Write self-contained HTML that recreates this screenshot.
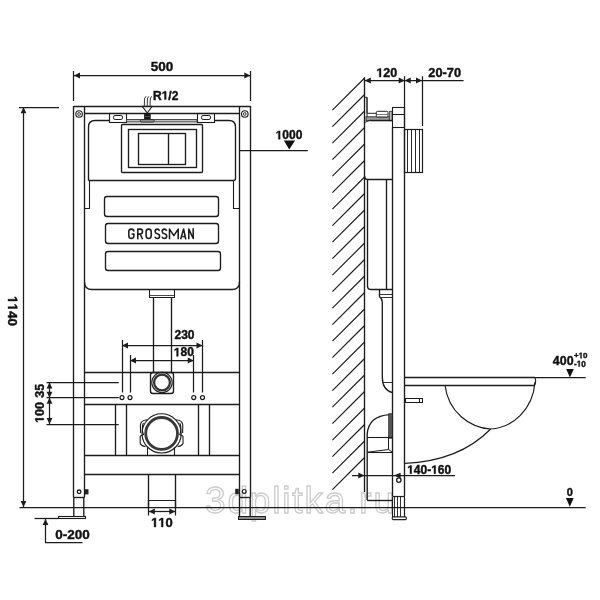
<!DOCTYPE html>
<html><head><meta charset="utf-8"><style>
html,body{margin:0;padding:0;background:#fff;width:600px;height:600px;overflow:hidden}
svg{display:block;font-family:"Liberation Sans",sans-serif;filter:grayscale(1)}
</style></head><body><svg width="600" height="600" viewBox="0 0 600 600" font-family="'Liberation Sans', sans-serif"><text x="205" y="513" font-size="37" font-weight="normal" fill="none" stroke="#cccccc" stroke-width="1.3" textLength="189" lengthAdjust="spacing">3dplitka.ru</text><line x1="73.5" y1="71" x2="73.5" y2="101" stroke="#1c1c1c" stroke-width="1.25"/><line x1="250.5" y1="71" x2="250.5" y2="101" stroke="#1c1c1c" stroke-width="1.25"/><line x1="74" y1="75.5" x2="250" y2="75.5" stroke="#1c1c1c" stroke-width="1.25"/><polygon points="74.00,75.50 80.00,72.60 80.00,78.40" fill="#1c1c1c"/><polygon points="250.30,75.50 244.30,72.60 244.30,78.40" fill="#1c1c1c"/><text x="150.74" y="70.9" font-size="13.5" font-weight="bold" fill="#111" stroke="#111" stroke-width="0.4" >500</text><line x1="73.6" y1="106.5" x2="250.4" y2="106.5" stroke="#1c1c1c" stroke-width="1.35"/><line x1="73.5" y1="106" x2="73.5" y2="497.5" stroke="#1c1c1c" stroke-width="1.35"/><line x1="84.5" y1="106.5" x2="84.5" y2="497.5" stroke="#1c1c1c" stroke-width="1.35"/><line x1="250.5" y1="106" x2="250.5" y2="497.5" stroke="#1c1c1c" stroke-width="1.35"/><line x1="239.5" y1="106.5" x2="239.5" y2="497.5" stroke="#1c1c1c" stroke-width="1.35"/><line x1="84.5" y1="113.5" x2="239.3" y2="113.5" stroke="#1c1c1c" stroke-width="1.35"/><circle cx="79.1" cy="114" r="3.3" fill="none" stroke="#1c1c1c" stroke-width="1.1"/><circle cx="79.1" cy="114" r="1.4" fill="none" stroke="#1c1c1c" stroke-width="0.9"/><circle cx="244.8" cy="114" r="3.3" fill="none" stroke="#1c1c1c" stroke-width="1.1"/><circle cx="244.8" cy="114" r="1.4" fill="none" stroke="#1c1c1c" stroke-width="0.9"/><line x1="73.6" y1="497.5" x2="84.5" y2="497.5" stroke="#1c1c1c" stroke-width="1.35"/><line x1="239.3" y1="497.5" x2="250.4" y2="497.5" stroke="#1c1c1c" stroke-width="1.35"/><path d="M73.8,497.5 L73.8,516 M83.8,497.5 L83.8,516" fill="none" stroke="#1c1c1c" stroke-width="1.35" stroke-linejoin="round"/><rect x="58.5" y="516.5" width="27.0" height="2.0" rx="0" fill="none" stroke="#1c1c1c" stroke-width="1.1"/><path d="M239.5,497.5 L239.5,516.5 M250.2,497.5 L250.2,516.5" fill="none" stroke="#1c1c1c" stroke-width="1.35" stroke-linejoin="round"/><rect x="238.5" y="516.5" width="27.0" height="3.0" rx="0" fill="#8a8a8a" stroke="#1c1c1c" stroke-width="1.0"/><circle cx="79.1" cy="491.8" r="1.8" fill="none" stroke="#1c1c1c" stroke-width="1.3"/><rect x="84.6" y="489.2" width="3.9" height="5.2" fill="#222"/><circle cx="244.2" cy="491.4" r="1.9" fill="none" stroke="#1c1c1c" stroke-width="1.2"/><rect x="235.2" y="488.8" width="3.6" height="5.5" fill="#222"/><line x1="19" y1="107.5" x2="59" y2="107.5" stroke="#1c1c1c" stroke-width="1.25"/><line x1="23.5" y1="107" x2="23.5" y2="507" stroke="#1c1c1c" stroke-width="1.25"/><polygon points="23.50,107.20 20.60,113.20 26.40,113.20" fill="#1c1c1c"/><polygon points="23.50,507.00 20.60,501.00 26.40,501.00" fill="#1c1c1c"/><g transform="translate(8,311) rotate(90)"><text x="-15.02" y="0" font-size="13.5" font-weight="bold" fill="#111" stroke="#111" stroke-width="0.4" >  40</text><path d="M478 0H759V1409H493L140 1180V959L478 1170Z" transform="translate(-15.02,0) scale(0.00659,-0.00659)" fill="#111" stroke="#111" stroke-width="0.4" vector-effect="non-scaling-stroke"/><path d="M478 0H759V1409H493L140 1180V959L478 1170Z" transform="translate(-7.51,0) scale(0.00659,-0.00659)" fill="#111" stroke="#111" stroke-width="0.4" vector-effect="non-scaling-stroke"/></g><line x1="19.5" y1="507.5" x2="585.7" y2="507.5" stroke="#1c1c1c" stroke-width="1.25"/><rect x="109.5" y="113.5" width="17.0" height="9.0" rx="0" fill="none" stroke="#1c1c1c" stroke-width="1.1"/><rect x="113.5" y="115.5" width="9.0" height="4.0" rx="1.6" fill="none" stroke="#1c1c1c" stroke-width="1.0"/><rect x="197.5" y="113.5" width="17.0" height="9.0" rx="0" fill="none" stroke="#1c1c1c" stroke-width="1.1"/><rect x="201.5" y="115.5" width="9.0" height="4.0" rx="1.6" fill="none" stroke="#1c1c1c" stroke-width="1.0"/><path d="M88.5,180.5 L88.5,127 Q88.5,120.5 95,120.5 L109,120.5 M126.5,120.5 L197.5,120.5 M214.5,120.5 L229,120.5 Q235.5,120.5 235.5,127 L235.5,178.5 Q235.5,180.5 233.5,180.5" fill="none" stroke="#1c1c1c" stroke-width="1.35" stroke-linejoin="round"/><rect x="126.5" y="119.6" width="70.5" height="2.3" fill="#c8c8c8" stroke="#333" stroke-width="0.9"/><line x1="88.5" y1="180.5" x2="233.5" y2="180.5" stroke="#1c1c1c" stroke-width="1.35"/><path d="M84.5,208.5 L89.5,208.5 L89.5,180.5" fill="none" stroke="#1c1c1c" stroke-width="1.1" stroke-linejoin="round"/><path d="M239.5,208.5 L233.5,208.5 L233.5,180.5" fill="none" stroke="#1c1c1c" stroke-width="1.1" stroke-linejoin="round"/><path d="M84.5,282 Q84.5,289.5 92,289.5 L232,289.5 Q239.5,289.5 239.5,282" fill="none" stroke="#1c1c1c" stroke-width="1.35" stroke-linejoin="round"/><rect x="121.5" y="124.5" width="81.0" height="48.0" rx="1" fill="none" stroke="#1c1c1c" stroke-width="1.35"/><rect x="128.5" y="129.5" width="68.0" height="38.0" rx="0" fill="none" stroke="#1c1c1c" stroke-width="1.35"/><rect x="138.5" y="133.5" width="47.0" height="31.0" rx="0" fill="none" stroke="#1c1c1c" stroke-width="1.35"/><line x1="168.5" y1="133.4" x2="168.5" y2="164" stroke="#1c1c1c" stroke-width="1.35"/><path d="M142.3,106.3 L152.2,106.3 L147.3,113 Z" fill="none" stroke="#1c1c1c" stroke-width="1.1" stroke-linejoin="round"/><path d="M144.4,105.6 L144.4,101 Q144.4,97.5 146.0,96.3" fill="none" stroke="#1c1c1c" stroke-width="0.9" stroke-linejoin="round"/><path d="M147.3,105.6 L147.3,101 Q147.3,97.5 148.9,96.3" fill="none" stroke="#1c1c1c" stroke-width="0.9" stroke-linejoin="round"/><path d="M150.1,105.6 L150.1,101 Q150.1,97.5 151.7,96.3" fill="none" stroke="#1c1c1c" stroke-width="0.9" stroke-linejoin="round"/><rect x="144.1" y="113.8" width="6.6" height="5.7" fill="#1a1a1a"/><line x1="145" y1="116.5" x2="149.8" y2="116.5" stroke="#777" stroke-width="0.6"/><path d="M141,119.6 L153.5,119.6 L154.4,120.8 L153.5,122 L141,122 L140.1,120.8 Z" fill="#9a9a9a" stroke="#222" stroke-width="0.9"/><text x="153.00" y="99.6" font-size="12" font-weight="bold" fill="#111" stroke="#111" stroke-width="0.4" >R /2</text><path d="M478 0H759V1409H493L140 1180V959L478 1170Z" transform="translate(161.67,99.6) scale(0.00586,-0.00586)" fill="#111" stroke="#111" stroke-width="0.4" vector-effect="non-scaling-stroke"/><rect x="104.5" y="196.5" width="114.0" height="20.0" rx="2.5" fill="none" stroke="#1c1c1c" stroke-width="1.35"/><rect x="105.5" y="223.5" width="113.0" height="20.0" rx="2.5" fill="none" stroke="#1c1c1c" stroke-width="1.35"/><rect x="105.5" y="251.5" width="115.0" height="19.0" rx="2.5" fill="none" stroke="#1c1c1c" stroke-width="1.35"/><path d="M133.9,231.6 Q133.9,229.1 131.35,229.1 Q128.8,229.1 128.8,231.8 L128.8,235.8 Q128.8,238.5 131.35,238.5 Q133.9,238.5 133.9,235.8 L133.9,233.9 L131.6,233.9" fill="none" stroke="#1c1c1c" stroke-width="1.55" stroke-linejoin="round"/><path d="M137.8,239.3 L137.8,229.1 L140.3,229.1 Q142.5,229.1 142.5,231.6 Q142.5,234.1 140.3,234.1 L137.8,234.1 M140.2,234.1 L142.6,239.3" fill="none" stroke="#1c1c1c" stroke-width="1.55" stroke-linejoin="round"/><path d="M146.1,231.8 Q146.1,229.1 148.65,229.1 Q151.2,229.1 151.2,231.8 L151.2,235.8 Q151.2,238.5 148.65,238.5 Q146.1,238.5 146.1,235.8 Z" fill="none" stroke="#1c1c1c" stroke-width="1.55" stroke-linejoin="round"/><path d="M159.60000000000002,230.9 Q158.8,229.1 157.3,229.1 Q155.10000000000002,229.1 155.10000000000002,231.5 Q155.10000000000002,233.3 157.3,233.8 Q159.60000000000002,234.3 159.60000000000002,236.1 Q159.60000000000002,238.5 157.3,238.5 Q155.60000000000002,238.5 154.9,236.8" fill="none" stroke="#1c1c1c" stroke-width="1.55" stroke-linejoin="round"/><path d="M166.70000000000002,230.9 Q165.9,229.1 164.4,229.1 Q162.20000000000002,229.1 162.20000000000002,231.5 Q162.20000000000002,233.3 164.4,233.8 Q166.70000000000002,234.3 166.70000000000002,236.1 Q166.70000000000002,238.5 164.4,238.5 Q162.70000000000002,238.5 162.0,236.8" fill="none" stroke="#1c1c1c" stroke-width="1.55" stroke-linejoin="round"/><path d="M169.5,239.3 L169.5,229.1 L173.85,235.6 L178.2,229.1 L178.2,239.3" fill="none" stroke="#1c1c1c" stroke-width="1.55" stroke-linejoin="round"/><path d="M180.7,239.3 L183.6,229 L185.8,239.3" fill="none" stroke="#1c1c1c" stroke-width="1.55" stroke-linejoin="round"/><path d="M182.3,236.6 L185,236.6" fill="none" stroke="#1c1c1c" stroke-width="1.55" stroke-linejoin="round"/><path d="M188.8,239.3 L188.8,229.1 L193.2,238.5 L193.2,228.3" fill="none" stroke="#1c1c1c" stroke-width="1.55" stroke-linejoin="round"/><rect x="149.5" y="289.5" width="25.0" height="8.0" rx="0" fill="none" stroke="#1c1c1c" stroke-width="1.0"/><line x1="149.4" y1="295.5" x2="174.4" y2="295.5" stroke="#1c1c1c" stroke-width="0.8"/><line x1="153.5" y1="297.6" x2="153.5" y2="372" stroke="#1c1c1c" stroke-width="1.35"/><line x1="171.5" y1="297.6" x2="171.5" y2="372" stroke="#1c1c1c" stroke-width="1.35"/><rect x="150.5" y="372.5" width="23.0" height="21.0" rx="2.5" fill="none" stroke="#1c1c1c" stroke-width="1.35"/><circle cx="162" cy="382.5" r="10.2" fill="none" stroke="#1c1c1c" stroke-width="1.1"/><circle cx="162" cy="382.5" r="7.9" fill="none" stroke="#333" stroke-width="2.3"/><line x1="84.5" y1="372.5" x2="239.3" y2="372.5" stroke="#1c1c1c" stroke-width="1.35"/><line x1="84.5" y1="404.5" x2="239.3" y2="404.5" stroke="#1c1c1c" stroke-width="1.35"/><line x1="115.5" y1="404" x2="115.5" y2="455.5" stroke="#1c1c1c" stroke-width="1.35"/><line x1="126.5" y1="404" x2="126.5" y2="455.5" stroke="#1c1c1c" stroke-width="1.35"/><line x1="198.5" y1="404" x2="198.5" y2="455.5" stroke="#1c1c1c" stroke-width="1.35"/><line x1="209.5" y1="404" x2="209.5" y2="455.5" stroke="#1c1c1c" stroke-width="1.35"/><line x1="84.5" y1="455.5" x2="239.3" y2="455.5" stroke="#1c1c1c" stroke-width="1.35"/><line x1="84.5" y1="474.5" x2="239.3" y2="474.5" stroke="#1c1c1c" stroke-width="1.35"/><circle cx="161.6" cy="433.4" r="19.6" fill="none" stroke="#1c1c1c" stroke-width="1.1"/><circle cx="161.6" cy="433.4" r="15.9" fill="none" stroke="#3a3a3a" stroke-width="2.8"/><path d="M147,419.8 C143,420.2 140.4,422 140.4,425.5 L140.6,433 M140.2,436 L140.2,443.5 C140.6,445 142.5,446 145.5,446.8" fill="none" stroke="#1c1c1c" stroke-width="1.1" stroke-linejoin="round"/><path d="M 176.2 419.8 C 180.2 420.2 182.8 422.0 182.8 425.5 L 182.6 433.0 M 183.0 436.0 L 183.0 443.5 C 182.6 445.0 180.7 446.0 177.7 446.8" fill="none" stroke="#1c1c1c" stroke-width="1.1" stroke-linejoin="round"/><path d="M143.6,423.2 C142.3,424.5 142.2,428 142.6,432 L143.6,434.6 L140.2,436" fill="none" stroke="#1c1c1c" stroke-width="1.1" stroke-linejoin="round"/><path d="M 179.6 423.2 C 180.9 424.5 181.0 428.0 180.6 432.0 L 179.6 434.6 L 183.0 436.0" fill="none" stroke="#1c1c1c" stroke-width="1.1" stroke-linejoin="round"/><line x1="147.5" y1="447.3" x2="147.5" y2="455.7" stroke="#1c1c1c" stroke-width="1.1"/><line x1="174.5" y1="447.3" x2="174.5" y2="455.7" stroke="#1c1c1c" stroke-width="1.1"/><line x1="148.5" y1="474" x2="148.5" y2="507.5" stroke="#1c1c1c" stroke-width="1.35"/><line x1="175.5" y1="474" x2="175.5" y2="507.5" stroke="#1c1c1c" stroke-width="1.35"/><line x1="148.3" y1="500.5" x2="175.5" y2="500.5" stroke="#1c1c1c" stroke-width="1.0"/><line x1="122.5" y1="340" x2="122.5" y2="392.5" stroke="#1c1c1c" stroke-width="1.25"/><line x1="202.5" y1="340" x2="202.5" y2="392.5" stroke="#1c1c1c" stroke-width="1.25"/><line x1="122" y1="345.5" x2="202.5" y2="345.5" stroke="#1c1c1c" stroke-width="1.25"/><polygon points="122.00,345.50 128.00,342.60 128.00,348.40" fill="#1c1c1c"/><polygon points="202.50,345.50 196.50,342.60 196.50,348.40" fill="#1c1c1c"/><text x="174.49" y="338.8" font-size="12" font-weight="bold" fill="#111" stroke="#111" stroke-width="0.4" >230</text><line x1="130.5" y1="355" x2="130.5" y2="392.5" stroke="#1c1c1c" stroke-width="1.25"/><line x1="193.5" y1="355" x2="193.5" y2="392.5" stroke="#1c1c1c" stroke-width="1.25"/><line x1="130" y1="360.5" x2="193.75" y2="360.5" stroke="#1c1c1c" stroke-width="1.25"/><polygon points="130.00,360.50 136.00,357.60 136.00,363.40" fill="#1c1c1c"/><polygon points="193.75,360.50 187.75,357.60 187.75,363.40" fill="#1c1c1c"/><text x="173.79" y="356.3" font-size="12" font-weight="bold" fill="#111" stroke="#111" stroke-width="0.4" > 80</text><path d="M478 0H759V1409H493L140 1180V959L478 1170Z" transform="translate(173.79,356.3) scale(0.00586,-0.00586)" fill="#111" stroke="#111" stroke-width="0.4" vector-effect="non-scaling-stroke"/><circle cx="122" cy="397.6" r="2.0" fill="#fff" stroke="#1c1c1c" stroke-width="1.2"/><circle cx="130" cy="397.6" r="2.0" fill="#fff" stroke="#1c1c1c" stroke-width="1.2"/><circle cx="193.75" cy="397.6" r="2.0" fill="#fff" stroke="#1c1c1c" stroke-width="1.2"/><circle cx="202.5" cy="397.6" r="2.0" fill="#fff" stroke="#1c1c1c" stroke-width="1.2"/><line x1="46.5" y1="382.5" x2="118.75" y2="382.5" stroke="#1c1c1c" stroke-width="1.25"/><line x1="46.5" y1="397.5" x2="118.75" y2="397.5" stroke="#1c1c1c" stroke-width="1.25"/><line x1="46.5" y1="424.5" x2="118.75" y2="424.5" stroke="#1c1c1c" stroke-width="1.25"/><line x1="49.5" y1="382.5" x2="49.5" y2="424" stroke="#1c1c1c" stroke-width="1.25"/><polygon points="49.50,382.50 46.60,388.50 52.40,388.50" fill="#1c1c1c"/><polygon points="49.50,397.80 46.60,391.80 52.40,391.80" fill="#1c1c1c"/><polygon points="49.50,397.80 46.60,403.80 52.40,403.80" fill="#1c1c1c"/><polygon points="49.50,424.00 46.60,418.00 52.40,418.00" fill="#1c1c1c"/><g transform="translate(43.8,390.8) rotate(-90)"><text x="-6.95" y="0" font-size="12.5" font-weight="bold" fill="#111" stroke="#111" stroke-width="0.4" >35</text></g><g transform="translate(43.8,412.5) rotate(-90)"><text x="-10.43" y="0" font-size="12.5" font-weight="bold" fill="#111" stroke="#111" stroke-width="0.4" > 00</text><path d="M478 0H759V1409H493L140 1180V959L478 1170Z" transform="translate(-10.43,0) scale(0.00610,-0.00610)" fill="#111" stroke="#111" stroke-width="0.4" vector-effect="non-scaling-stroke"/></g><line x1="34.5" y1="518.5" x2="58" y2="518.5" stroke="#1c1c1c" stroke-width="1.25"/><line x1="45.5" y1="519" x2="45.5" y2="542.5" stroke="#1c1c1c" stroke-width="1.25"/><line x1="45" y1="542.5" x2="82.5" y2="542.5" stroke="#1c1c1c" stroke-width="1.25"/><polygon points="45.50,518.90 42.60,524.90 48.40,524.90" fill="#1c1c1c"/><text x="55.24" y="538.8" font-size="13.5" font-weight="bold" fill="#111" stroke="#111" stroke-width="0.4" >0-200</text><line x1="148.5" y1="500" x2="148.5" y2="515.5" stroke="#1c1c1c" stroke-width="1.25"/><line x1="175.5" y1="500" x2="175.5" y2="515.5" stroke="#1c1c1c" stroke-width="1.25"/><line x1="148.3" y1="511.5" x2="175.5" y2="511.5" stroke="#1c1c1c" stroke-width="1.25"/><polygon points="148.80,511.50 154.80,508.60 154.80,514.40" fill="#1c1c1c"/><polygon points="175.30,511.50 169.30,508.60 169.30,514.40" fill="#1c1c1c"/><text x="151.06" y="527" font-size="13" font-weight="bold" fill="#111" stroke="#111" stroke-width="0.4" >  0</text><path d="M478 0H759V1409H493L140 1180V959L478 1170Z" transform="translate(151.06,527) scale(0.00635,-0.00635)" fill="#111" stroke="#111" stroke-width="0.4" vector-effect="non-scaling-stroke"/><path d="M478 0H759V1409H493L140 1180V959L478 1170Z" transform="translate(158.29,527) scale(0.00635,-0.00635)" fill="#111" stroke="#111" stroke-width="0.4" vector-effect="non-scaling-stroke"/><line x1="239.3" y1="150.5" x2="307.8" y2="150.5" stroke="#1c1c1c" stroke-width="1.25"/><polygon points="283.9,140.5 295.1,140.5 289.2,149.6" fill="#111"/><text x="275.65" y="139.2" font-size="12" font-weight="bold" fill="#111" stroke="#111" stroke-width="0.4" > 000</text><path d="M478 0H759V1409H493L140 1180V959L478 1170Z" transform="translate(275.65,139.2) scale(0.00586,-0.00586)" fill="#111" stroke="#111" stroke-width="0.4" vector-effect="non-scaling-stroke"/><line x1="364.5" y1="77.3" x2="364.5" y2="492" stroke="#1c1c1c" stroke-width="1.35"/><line x1="364.6" y1="78.0" x2="332.4" y2="110.2" stroke="#1c1c1c" stroke-width="1.15"/><line x1="364.6" y1="94.5" x2="332.4" y2="126.7" stroke="#1c1c1c" stroke-width="1.15"/><line x1="364.6" y1="111.0" x2="332.4" y2="143.2" stroke="#1c1c1c" stroke-width="1.15"/><line x1="364.6" y1="127.5" x2="332.4" y2="159.7" stroke="#1c1c1c" stroke-width="1.15"/><line x1="364.6" y1="144.0" x2="332.4" y2="176.2" stroke="#1c1c1c" stroke-width="1.15"/><line x1="364.6" y1="160.5" x2="332.4" y2="192.7" stroke="#1c1c1c" stroke-width="1.15"/><line x1="364.6" y1="177.0" x2="332.4" y2="209.2" stroke="#1c1c1c" stroke-width="1.15"/><line x1="364.6" y1="193.5" x2="332.4" y2="225.7" stroke="#1c1c1c" stroke-width="1.15"/><line x1="364.6" y1="210.0" x2="332.4" y2="242.2" stroke="#1c1c1c" stroke-width="1.15"/><line x1="364.6" y1="226.5" x2="332.4" y2="258.7" stroke="#1c1c1c" stroke-width="1.15"/><line x1="364.6" y1="243.0" x2="332.4" y2="275.2" stroke="#1c1c1c" stroke-width="1.15"/><line x1="364.6" y1="259.5" x2="332.4" y2="291.7" stroke="#1c1c1c" stroke-width="1.15"/><line x1="364.6" y1="276.0" x2="332.4" y2="308.2" stroke="#1c1c1c" stroke-width="1.15"/><line x1="364.6" y1="292.5" x2="332.4" y2="324.7" stroke="#1c1c1c" stroke-width="1.15"/><line x1="364.6" y1="309.0" x2="332.4" y2="341.2" stroke="#1c1c1c" stroke-width="1.15"/><line x1="364.6" y1="325.5" x2="332.4" y2="357.7" stroke="#1c1c1c" stroke-width="1.15"/><line x1="364.6" y1="342.0" x2="332.4" y2="374.2" stroke="#1c1c1c" stroke-width="1.15"/><line x1="364.6" y1="358.5" x2="332.4" y2="390.7" stroke="#1c1c1c" stroke-width="1.15"/><line x1="364.6" y1="375.0" x2="332.4" y2="407.2" stroke="#1c1c1c" stroke-width="1.15"/><line x1="364.6" y1="391.5" x2="332.4" y2="423.7" stroke="#1c1c1c" stroke-width="1.15"/><line x1="364.6" y1="408.0" x2="332.4" y2="440.2" stroke="#1c1c1c" stroke-width="1.15"/><line x1="364.6" y1="424.5" x2="332.4" y2="456.7" stroke="#1c1c1c" stroke-width="1.15"/><line x1="364.6" y1="441.0" x2="332.4" y2="473.2" stroke="#1c1c1c" stroke-width="1.15"/><line x1="364.6" y1="457.5" x2="332.4" y2="489.7" stroke="#1c1c1c" stroke-width="1.15"/><line x1="404.5" y1="76.3" x2="404.5" y2="107" stroke="#1c1c1c" stroke-width="1.25"/><line x1="422.5" y1="76.3" x2="422.5" y2="126" stroke="#1c1c1c" stroke-width="1.25"/><line x1="364.6" y1="80.5" x2="463.6" y2="80.5" stroke="#1c1c1c" stroke-width="1.25"/><polygon points="364.80,80.50 370.80,77.60 370.80,83.40" fill="#1c1c1c"/><polygon points="404.70,80.50 398.70,77.60 398.70,83.40" fill="#1c1c1c"/><polygon points="404.70,80.50 410.70,77.60 410.70,83.40" fill="#1c1c1c"/><polygon points="422.00,80.50 416.00,77.60 416.00,83.40" fill="#1c1c1c"/><text x="376.37" y="77" font-size="12.5" font-weight="bold" fill="#111" stroke="#111" stroke-width="0.4" > 20</text><path d="M478 0H759V1409H493L140 1180V959L478 1170Z" transform="translate(376.37,77) scale(0.00610,-0.00610)" fill="#111" stroke="#111" stroke-width="0.4" vector-effect="non-scaling-stroke"/><text x="428.33" y="76.8" font-size="12.8" font-weight="bold" fill="#111" stroke="#111" stroke-width="0.4" >20-70</text><path d="M365,97.3 L367,97.3 L367,113.3 L376.3,113.3 M367,117 L367,97.3" fill="none" stroke="#222" stroke-width="1.0"/><rect x="366" y="116.8" width="26" height="3.9" fill="#9a9a9a" stroke="#2a2a2a" stroke-width="0.9"/><rect x="376.3" y="111.3" width="11.7" height="5.7" rx="1.2" fill="#fff" stroke="#222" stroke-width="1.0"/><line x1="376.8" y1="114.5" x2="387.5" y2="114.5" stroke="#444" stroke-width="0.7"/><rect x="389.3" y="111.3" width="2.8" height="9.4" fill="#bbb" stroke="#333" stroke-width="0.8"/><path d="M365,122.3 L370.7,120" fill="none" stroke="#1c1c1c" stroke-width="0.9" stroke-linejoin="round"/><rect x="392.5" y="107.5" width="12.0" height="20.0" rx="0" fill="none" stroke="#1c1c1c" stroke-width="1.1"/><line x1="392.5" y1="114.5" x2="404.7" y2="114.5" stroke="#1c1c1c" stroke-width="1.0"/><line x1="404.5" y1="107" x2="404.5" y2="496" stroke="#1c1c1c" stroke-width="1.35"/><line x1="392.5" y1="127.5" x2="392.5" y2="496" stroke="#1c1c1c" stroke-width="1.35"/><rect x="404.5" y="129.5" width="18.0" height="43.0" rx="0" fill="none" stroke="#1c1c1c" stroke-width="1.2"/><line x1="407.5" y1="129.5" x2="407.5" y2="172.2" stroke="#1c1c1c" stroke-width="0.95"/><line x1="411.5" y1="129.5" x2="411.5" y2="172.2" stroke="#1c1c1c" stroke-width="0.95"/><line x1="415.5" y1="129.5" x2="415.5" y2="172.2" stroke="#1c1c1c" stroke-width="0.95"/><line x1="419.5" y1="129.5" x2="419.5" y2="172.2" stroke="#1c1c1c" stroke-width="0.95"/><line x1="370.5" y1="120.5" x2="392.5" y2="120.5" stroke="#1c1c1c" stroke-width="1.35"/><path d="M364.6,176 Q364.6,179.5 368,179.5 L392.5,179.5" fill="none" stroke="#1c1c1c" stroke-width="1.35" stroke-linejoin="round"/><line x1="367.5" y1="179" x2="367.5" y2="286.5" stroke="#1c1c1c" stroke-width="1.35"/><path d="M367.5,286 Q367.5,289.5 371,289.5 L392.5,289.5" fill="none" stroke="#1c1c1c" stroke-width="1.35" stroke-linejoin="round"/><line x1="386.5" y1="179" x2="386.5" y2="289.5" stroke="#1c1c1c" stroke-width="1.35"/><path d="M379.5,289.5 L379.5,296.5 Q382.3,299 382.3,302 L382.3,377 Q382.3,390 392.5,392.7" fill="none" stroke="#1c1c1c" stroke-width="1.35" stroke-linejoin="round"/><line x1="379.5" y1="294.5" x2="392.5" y2="294.5" stroke="#1c1c1c" stroke-width="0.9"/><line x1="379.8" y1="297.5" x2="392.5" y2="297.5" stroke="#1c1c1c" stroke-width="0.9"/><line x1="382.3" y1="382.5" x2="392.5" y2="382.5" stroke="#1c1c1c" stroke-width="0.9"/><path d="M367.2,500 L367.2,434 Q368.5,416 389.6,414.6" fill="none" stroke="#1c1c1c" stroke-width="1.35" stroke-linejoin="round"/><rect x="388.7" y="413.7" width="3.7" height="24.5" fill="#555" stroke="#222" stroke-width="0.7"/><line x1="367.2" y1="437.5" x2="392.4" y2="437.5" stroke="#1c1c1c" stroke-width="1.1"/><path d="M367.6,452.2 L388.5,449.5 L392.4,452.2 M388.5,437.6 L388.5,449.5" fill="none" stroke="#1c1c1c" stroke-width="1.0" stroke-linejoin="round"/><line x1="367.6" y1="452.5" x2="392.4" y2="452.5" stroke="#1c1c1c" stroke-width="1.1"/><line x1="367.2" y1="500.5" x2="392.5" y2="500.5" stroke="#1c1c1c" stroke-width="1.35"/><line x1="392.5" y1="496.5" x2="404.8" y2="496.5" stroke="#1c1c1c" stroke-width="1.2"/><line x1="392.5" y1="496.6" x2="392.5" y2="517" stroke="#1c1c1c" stroke-width="1.2"/><line x1="404.5" y1="496.6" x2="404.5" y2="517" stroke="#1c1c1c" stroke-width="1.2"/><line x1="394.5" y1="496.6" x2="394.5" y2="517" stroke="#1c1c1c" stroke-width="0.9"/><line x1="397.5" y1="496.6" x2="397.5" y2="517" stroke="#1c1c1c" stroke-width="0.9"/><line x1="400.5" y1="496.6" x2="400.5" y2="517" stroke="#1c1c1c" stroke-width="0.9"/><rect x="392.2" y="516.9" width="14.2" height="2.7" rx="1" fill="#fff" stroke="#222" stroke-width="1.1"/><circle cx="398.8" cy="480.1" r="2.2" fill="none" stroke="#1c1c1c" stroke-width="1.3"/><line x1="404.7" y1="377.5" x2="535" y2="377.5" stroke="#1c1c1c" stroke-width="1.35"/><line x1="585.7" y1="377.5" x2="535" y2="377.5" stroke="#1c1c1c" stroke-width="1.25"/><line x1="404.7" y1="385.5" x2="535" y2="385.5" stroke="#1c1c1c" stroke-width="1.35"/><path d="M535,377.7 Q536.5,381 535,385" fill="none" stroke="#1c1c1c" stroke-width="1.1" stroke-linejoin="round"/><path d="M445,385 C448,412 470,428 490.7,429 C512,428 533,410 535,382" fill="none" stroke="#1c1c1c" stroke-width="1.2" stroke-linejoin="round"/><path d="M490.7,429 C470,450 440,462 404.7,463.3" fill="none" stroke="#1c1c1c" stroke-width="1.2" stroke-linejoin="round"/><rect x="405.5" y="398.5" width="17.0" height="4.0" rx="0" fill="none" stroke="#1c1c1c" stroke-width="1.0"/><line x1="419.5" y1="398.7" x2="419.5" y2="402.7" stroke="#1c1c1c" stroke-width="1.0"/><line x1="352" y1="475.5" x2="455" y2="475.5" stroke="#1c1c1c" stroke-width="1.25"/><polygon points="364.30,475.50 358.30,472.60 358.30,478.40" fill="#1c1c1c"/><polygon points="393.60,475.50 400.60,472.70 400.60,478.30" fill="#1c1c1c"/><text x="407.18" y="473.8" font-size="12" font-weight="bold" fill="#111" stroke="#111" stroke-width="0.4" > 40- 60</text><path d="M478 0H759V1409H493L140 1180V959L478 1170Z" transform="translate(407.18,473.8) scale(0.00586,-0.00586)" fill="#111" stroke="#111" stroke-width="0.4" vector-effect="non-scaling-stroke"/><path d="M478 0H759V1409H493L140 1180V959L478 1170Z" transform="translate(431.20,473.8) scale(0.00586,-0.00586)" fill="#111" stroke="#111" stroke-width="0.4" vector-effect="non-scaling-stroke"/><polygon points="566.2,369 573.8,369 569.9,377.6" fill="#111"/><text x="552.86" y="364.7" font-size="12.4" font-weight="bold" fill="#111" stroke="#111" stroke-width="0.4" >400</text><text x="574.00" y="358.3" font-size="8" font-weight="bold" fill="#111" stroke="#111" stroke-width="0.4" >+ 0</text><path d="M478 0H759V1409H493L140 1180V959L478 1170Z" transform="translate(578.67,358.3) scale(0.00391,-0.00391)" fill="#111" stroke="#111" stroke-width="0.4" vector-effect="non-scaling-stroke"/><text x="574.00" y="366.5" font-size="8.2" font-weight="bold" fill="#111" stroke="#111" stroke-width="0.4" >- 0</text><path d="M478 0H759V1409H493L140 1180V959L478 1170Z" transform="translate(576.73,366.5) scale(0.00400,-0.00400)" fill="#111" stroke="#111" stroke-width="0.4" vector-effect="non-scaling-stroke"/><polygon points="565.9,497.9 573.7,497.9 569.8,506.8" fill="#111"/><text x="566.64" y="495.7" font-size="11" font-weight="bold" fill="#111" stroke="#111" stroke-width="0.4" >0</text></svg></body></html>
